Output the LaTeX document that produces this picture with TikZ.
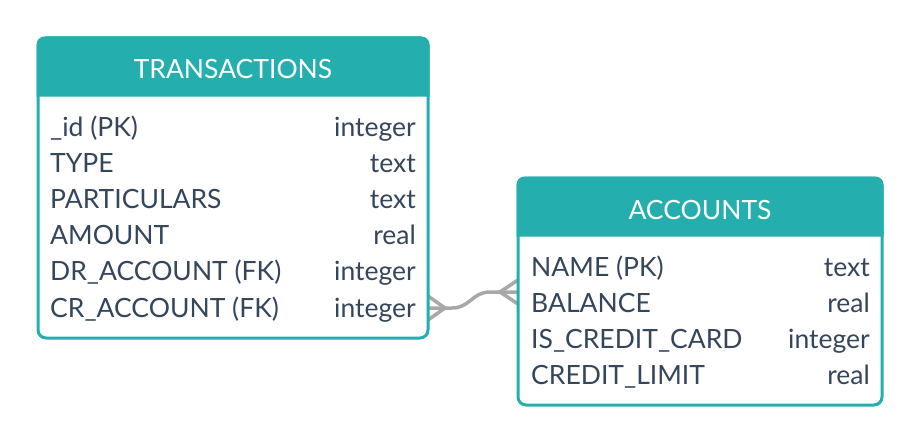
\documentclass[tikz,border=0pt]{standalone}
\usepackage{fontspec}
\setmainfont{Lato}
\usetikzlibrary{calc}
\definecolor{erteal}{HTML}{24AFAE}
\definecolor{erink}{HTML}{34465C}
\definecolor{erlink}{HTML}{A8A8A8}
\tikzset{
  tablebox/.style={rectangle,draw=erteal,fill=white,line width=3pt,rounded corners=8pt,inner sep=0pt},
  tablehead/.style={fill=erteal},
  title/.style={anchor=base,font=\fontsize{26.5}{30}\selectfont,text=white,inner sep=0pt},
  field/.style={anchor=base west,font=\fontsize{26.5}{30}\selectfont,text=erink,inner sep=0pt},
  ftype/.style={anchor=base east,font=\fontsize{26.5}{30}\selectfont,text=erink,inner sep=0pt},
  link/.style={draw=erlink,line width=3.5pt,line join=round},
}

\begin{document}
\begin{tikzpicture}[x=1pt,y=-1pt]
  \useasboundingbox (0,0) rectangle (920,444);
  % relationship: transactions >--< accounts
  \coordinate (tfoot) at (428,308);
  \coordinate (afoot) at (518,292);
  \draw[link] ($(tfoot)+(0,-12)$) -- ($(tfoot)+(17,0)$) -- ($(tfoot)+(0,12)$);
  \draw[link] (tfoot) -- ++(24,0) .. controls +(18,0) and +(-18,0) .. ($(afoot)+(-28,0)$) -- (afoot);
  \draw[link] ($(afoot)+(0,-12)$) -- ($(afoot)+(-18,0)$) -- ($(afoot)+(0,12)$);
  % TRANSACTIONS table
  \node[tablebox,minimum width=390pt,minimum height=300pt] (trans) at (233,188) {};
  \fill[tablehead] ($(trans.north west)+(0,60)$) {[rounded corners=8pt] -- (trans.north west) -- (trans.north east)} -- ($(trans.north east)+(0,60)$) -- cycle;
  \node[title] (transh) at (233,78.5) {TRANSACTIONS};
  \node[field] (t1) at (50,136) {\_id (PK)};
  \node[ftype] (t1t) at (416,136) {integer};
  \node[field] (t2) at (50,172.2) {TYPE};
  \node[ftype] (t2t) at (416,172.2) {text};
  \node[field] (t3) at (50,208.4) {PARTICULARS};
  \node[ftype] (t3t) at (416,208.4) {text};
  \node[field] (t4) at (50,244.6) {AMOUNT};
  \node[ftype] (t4t) at (416,244.6) {real};
  \node[field] (t5) at (50,280.8) {DR\_ACCOUNT (FK)};
  \node[ftype] (t5t) at (416,280.8) {integer};
  \node[field] (t6) at (50,317) {CR\_ACCOUNT (FK)};
  \node[ftype] (t6t) at (416,317) {integer};
  % ACCOUNTS table
  \node[tablebox,minimum width=364pt,minimum height=227pt] (acct) at (700,291.5) {};
  \fill[tablehead] ($(acct.north west)+(0,60)$) {[rounded corners=8pt] -- (acct.north west) -- (acct.north east)} -- ($(acct.north east)+(0,60)$) -- cycle;
  \node[title] (accth) at (700,219.5) {ACCOUNTS};
  \node[field] (a1) at (531,276) {NAME (PK)};
  \node[ftype] (a1t) at (870,276) {text};
  \node[field] (a2) at (531,312.2) {BALANCE};
  \node[ftype] (a2t) at (870,312.2) {real};
  \node[field] (a3) at (531,348.4) {IS\_CREDIT\_CARD};
  \node[ftype] (a3t) at (870,348.4) {integer};
  \node[field] (a4) at (531,384.6) {CREDIT\_LIMIT};
  \node[ftype] (a4t) at (870,384.6) {real};
\end{tikzpicture}
\end{document}
